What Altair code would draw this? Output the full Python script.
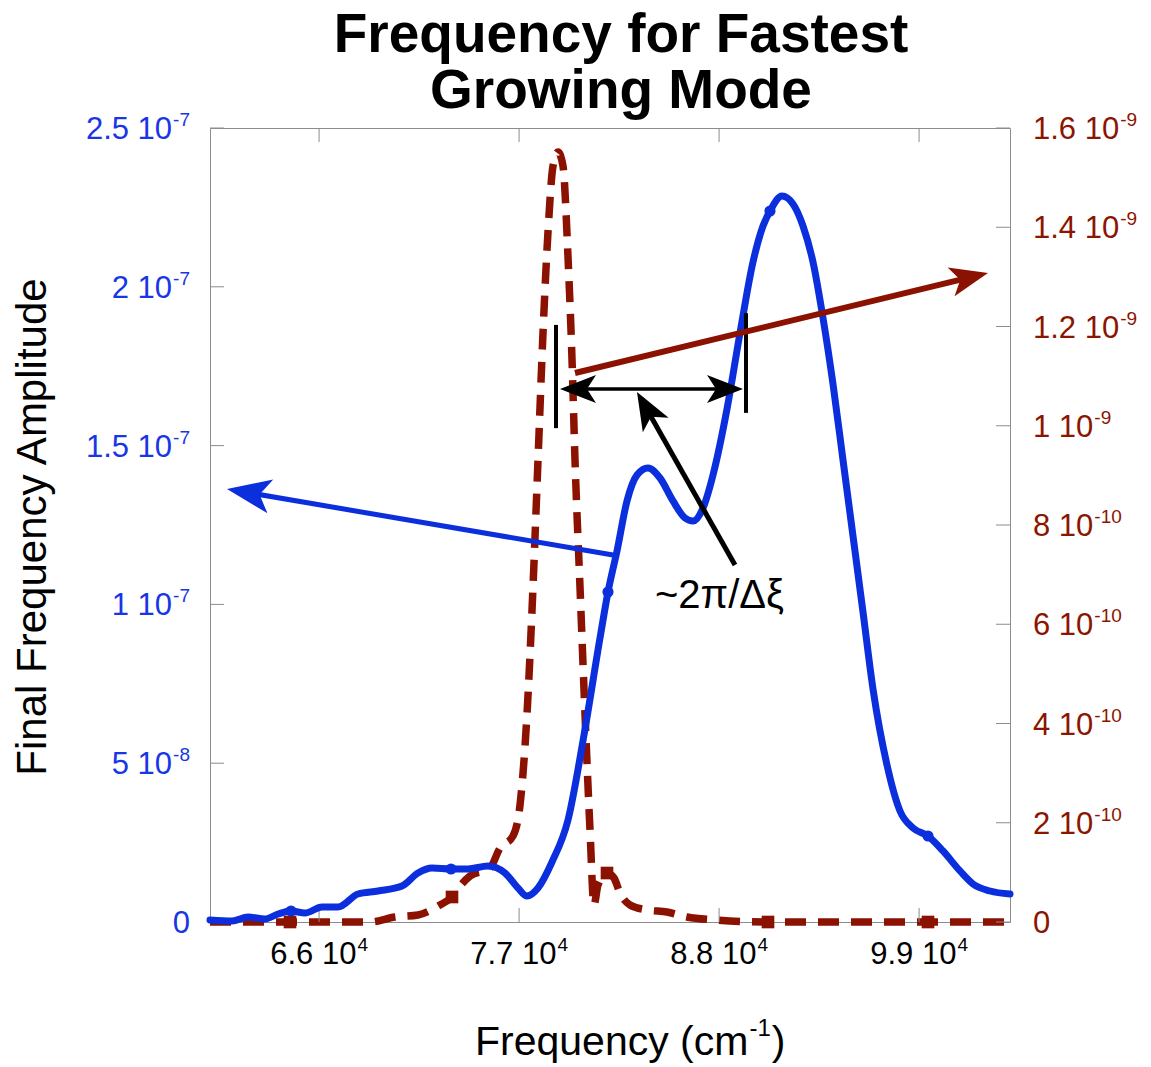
import math
import altair as alt
import pandas as pd

FONT = "Liberation Sans"
BLUE = "#0b2fdc"
RED = "#8b1200"
BLUE_LABEL = "#1736e6"
RED_LABEL = "#8b1500"
FRAME = "#8c8c8c"

W, H = 800, 794
X_DOMAIN = [60000, 104000]
LEFT_DOMAIN = [0, 2.5]    # in units of 1e-7
RIGHT_DOMAIN = [0, 1.6]   # in units of 1e-9

# ---- blue curve (left axis, units of 1e-7) ----
blue_freq = [60000, 61210, 62090, 63025, 63740, 64455, 65225, 66160, 67040, 68140,
             69240, 70560, 71440, 72210, 73255, 74190, 75290, 76225, 76940, 77435,
             78040, 78810, 79690, 80570, 81450, 81890, 82385, 82935, 83485, 84090,
             84750, 85465, 86125, 86565, 87115, 87665, 88435, 89150, 89865, 90415,
             90800, 91460, 92065, 92615, 93165, 93715, 94265, 94815, 95365, 95915,
             96465, 97235, 97950, 98665, 99490, 100315, 101250, 101965, 102900, 104000]
blue_amp = [0.0063, 0.0031, 0.0157, 0.0094, 0.0252, 0.0346, 0.0283, 0.0472, 0.0472, 0.0882,
            0.0976, 0.1133, 0.1543, 0.1700, 0.1669, 0.1669, 0.1763, 0.1543, 0.1071, 0.0819,
            0.1071, 0.1889, 0.3212, 0.5888, 0.8942, 1.0390, 1.1681, 1.3256, 1.4074, 1.4295,
            1.3980, 1.3256, 1.2720, 1.2626, 1.3035, 1.4074, 1.6152, 1.8545, 2.0781, 2.1914,
            2.2387, 2.2859, 2.2607, 2.1914, 2.0781, 1.9018, 1.6939, 1.4547, 1.2154, 0.9761,
            0.7336, 0.4943, 0.3495, 0.2960, 0.2708, 0.2236, 0.1606, 0.1196, 0.0976, 0.0882]
blue_marker_freq = [64455, 73255, 81890, 90800, 99490]
blue_marker_amp = [0.0346, 0.1669, 1.0390, 2.2387, 0.2708]

# ---- dark red dashed curve (right axis, units of 1e-9) ----
red_freq = [60000, 62200, 64400, 66600, 68800, 70175, 71440, 72650, 73310, 73750,
            74300, 75400, 75950, 76665, 77050, 77435, 77765, 78040, 78315, 78590,
            78865, 79140, 79415, 79690, 79910, 80075, 80350, 80625, 80900, 81120,
            81340, 81835, 82220, 82550, 83100, 84035, 85135, 86235, 87885, 90690,
            95200, 99490, 104000]
red_amp = [0.0, 0.0, 0.0, 0.0, 0.0, 0.0101, 0.0141, 0.0343, 0.0504, 0.0725,
           0.0927, 0.1088, 0.1491, 0.1733, 0.2358, 0.4191, 0.6751, 0.9310, 1.1869, 1.3904,
           1.5234, 1.5516, 1.5234, 1.3400, 1.1345, 0.9310, 0.6751, 0.4191, 0.1854, 0.0343,
           0.0746, 0.0987, 0.0887, 0.0584, 0.0343, 0.0242, 0.0201, 0.0101, 0.0040, 0.0,
           0.0, 0.0, 0.0]
red_marker_freq = [64400, 73310, 81835, 90690, 99490]
red_marker_amp = [0.0, 0.0504, 0.0987, 0.0, 0.0]

# ---- axis ticks and labels (mantissa "10" + superscript exponent) ----
x_ticks = [66000, 77000, 88000, 99000]
x_label_base = ["6.6 10", "7.7 10", "8.8 10", "9.9 10"]
x_label_exp = ["4", "4", "4", "4"]
left_ticks = [0, 0.5, 1.0, 1.5, 2.0, 2.5]
left_label_base = ["0", "5 10", "1 10", "1.5 10", "2 10", "2.5 10"]
left_label_exp = ["", "-8", "-7", "-7", "-7", "-7"]
right_ticks = [0, 0.2, 0.4, 0.6, 0.8, 1.0, 1.2, 1.4, 1.6]
right_label_base = ["0", "2 10", "4 10", "6 10", "8 10", "1 10", "1.2 10", "1.4 10", "1.6 10"]
right_label_exp = ["", "-10", "-10", "-10", "-10", "-9", "-9", "-9", "-9"]

title_lines = ["Frequency for Fastest", "Growing Mode"]
y_title = "Final Frequency Amplitude"
x_title_parts = ["Frequency (cm", "-1", ")"]

# ---- annotations (x in cm^-1, y in left-axis units) ----
bar_x = [79030, 89480]
bar_y0 = [1.555, 1.603]
bar_y1 = [1.880, 1.917]

arrow_x0 = [79250, 88875, 80075, 82165]
arrow_y0 = [1.678, 1.124, 1.7286, 1.1555]
arrow_x1 = [89315, 83485, 102790, 60935]
arrow_y1 = [1.678, 1.669, 2.0434, 1.3633]
arrow_color = ["black", "black", RED, BLUE]
arrow_width = [3.5, 5, 6, 5]
arrow_head = [36, 38, 38, 44]
arrow_double = [True, False, False, False]

note_text = ["~2π/Δξ"]
note_x = [84475]
note_y = [0.99]

ARROW_PATH = "M0,0 L-2,-0.78 L-1.5,0 L-2,0.78 Z"

# ---- text metrics (Arial / Liberation Sans advance widths, em units) ----
ADV = {c: 0.556 for c in "0123456789"}
ADV.update({".": 0.278, " ": 0.278, "-": 0.333, "F": 0.611, "r": 0.333, "e": 0.556,
            "q": 0.556, "u": 0.556, "n": 0.556, "c": 0.5, "y": 0.5, "(": 0.333,
            ")": 0.333, "m": 0.833})


def tw(s, size):
    return sum(ADV.get(c, 0.556) for c in s) * size


LBL = 31       # tick label size
EXP = 19       # exponent size
LBL_DY = 11    # base baseline below tick
EXP_DY = -2    # exponent baseline relative to tick


def to_px(x, y):
    px = (x - X_DOMAIN[0]) / (X_DOMAIN[1] - X_DOMAIN[0]) * W
    py = H - (y - LEFT_DOMAIN[0]) / (LEFT_DOMAIN[1] - LEFT_DOMAIN[0]) * H
    return px, py


def from_px(px, py):
    x = X_DOMAIN[0] + px / W * (X_DOMAIN[1] - X_DOMAIN[0])
    y = LEFT_DOMAIN[0] + (H - py) / H * (LEFT_DOMAIN[1] - LEFT_DOMAIN[0])
    return x, y


shaft_rows, head_rows = [], []
for i in range(len(arrow_x0)):
    p0 = to_px(arrow_x0[i], arrow_y0[i])
    p1 = to_px(arrow_x1[i], arrow_y1[i])
    dx, dy = p1[0] - p0[0], p1[1] - p0[1]
    d = math.hypot(dx, dy)
    ux, uy = dx / d, dy / d
    L = arrow_head[i]
    ang = math.degrees(math.atan2(dy, dx)) % 360
    e1 = from_px(p1[0] - ux * 0.6 * L, p1[1] - uy * 0.6 * L)
    if arrow_double[i]:
        e0 = from_px(p0[0] + ux * 0.6 * L, p0[1] + uy * 0.6 * L)
        head_rows.append(dict(x=arrow_x0[i], y=arrow_y0[i], angle=(ang + 180) % 360,
                              color=arrow_color[i], size=L * L))
    else:
        e0 = (arrow_x0[i], arrow_y0[i])
    shaft_rows.append(dict(x=e0[0], y=e0[1], x2=e1[0], y2=e1[1],
                           color=arrow_color[i], w=arrow_width[i]))
    head_rows.append(dict(x=arrow_x1[i], y=arrow_y1[i], angle=ang,
                          color=arrow_color[i], size=L * L))

blue_df = pd.DataFrame({"freq": blue_freq, "amp": blue_amp})
blue_mk = pd.DataFrame({"freq": blue_marker_freq, "amp": blue_marker_amp})
red_df = pd.DataFrame({"freq": red_freq, "amp": red_amp})
red_mk = pd.DataFrame({"freq": red_marker_freq, "amp": red_marker_amp})
bars_df = pd.DataFrame({"x": bar_x, "y": bar_y0, "y2": bar_y1})
shaft_df = pd.DataFrame(shaft_rows)
head_df = pd.DataFrame(head_rows)
note_df = pd.DataFrame({"x": note_x, "y": note_y, "t": note_text})
xt_df = pd.DataFrame({"v": x_ticks, "base": x_label_base, "exp": x_label_exp})
lt_df = pd.DataFrame({"v": left_ticks, "base": left_label_base, "exp": left_label_exp})
lt_df["bx"] = [-20 - (tw(e, EXP) + 1 if e else 0) for e in left_label_exp]
rt_df = pd.DataFrame({"v": right_ticks, "base": right_label_base, "exp": right_label_exp})
rt_df["ex"] = [W + 23 + tw(b, LBL) + 1 for b in right_label_base]

XS = alt.Scale(domain=X_DOMAIN, nice=False, zero=False)
YL = alt.Scale(domain=LEFT_DOMAIN, nice=False, zero=False)
YR = alt.Scale(domain=RIGHT_DOMAIN, nice=False, zero=False)

# ---------------- right (dark red) group ----------------
red_line = alt.Chart(red_df).mark_line(
    color=RED, strokeWidth=7.5, strokeDash=[21, 12], interpolate="monotone", strokeCap="butt"
).encode(
    x=alt.X("freq:Q", scale=XS, axis=None),
    y=alt.Y("amp:Q", scale=YR, axis=None),
)
red_pts = alt.Chart(red_mk).mark_square(color=RED, size=160, opacity=1).encode(
    x=alt.X("freq:Q", scale=XS, axis=None),
    y=alt.Y("amp:Q", scale=YR, axis=None),
)
right_ticks_mark = alt.Chart(rt_df).mark_rule(color=FRAME, strokeWidth=1).encode(
    y=alt.Y("v:Q", scale=YR, axis=None),
    x=alt.value(W - 14), x2=alt.value(W),
)
right_lbl = alt.Chart(rt_df).mark_text(
    align="left", baseline="alphabetic", fontSize=LBL, font=FONT, color=RED_LABEL, dy=LBL_DY
).encode(
    y=alt.Y("v:Q", scale=YR, axis=None), x=alt.value(W + 23), text="base:N",
)
right_exp = alt.Chart(rt_df).mark_text(
    align="left", baseline="alphabetic", fontSize=EXP, font=FONT, color=RED_LABEL, dy=EXP_DY
).encode(
    y=alt.Y("v:Q", scale=YR, axis=None), x=alt.X("ex:Q", scale=None), text="exp:N",
)
right_group = alt.layer(red_line, red_pts, right_ticks_mark, right_lbl, right_exp)

# ---------------- left (blue) group with annotations ----------------
blue_line = alt.Chart(blue_df).mark_line(
    color=BLUE, strokeWidth=7, interpolate="monotone", strokeCap="round", strokeJoin="round"
).encode(
    x=alt.X("freq:Q", scale=XS, axis=None),
    y=alt.Y("amp:Q", scale=YL, axis=None),
)
blue_pts = alt.Chart(blue_mk).mark_circle(color=BLUE, size=125, opacity=1).encode(
    x=alt.X("freq:Q", scale=XS, axis=None),
    y=alt.Y("amp:Q", scale=YL, axis=None),
)
bars = alt.Chart(bars_df).mark_rule(color="black", strokeWidth=4).encode(
    x=alt.X("x:Q", scale=XS, axis=None),
    y=alt.Y("y:Q", scale=YL, axis=None),
    y2="y2:Q",
)
shafts = alt.Chart(shaft_df).mark_rule(strokeCap="butt").encode(
    x=alt.X("x:Q", scale=XS, axis=None),
    y=alt.Y("y:Q", scale=YL, axis=None),
    x2="x2:Q", y2="y2:Q",
    color=alt.Color("color:N", scale=None),
    strokeWidth=alt.StrokeWidth("w:Q", scale=None),
)
heads = alt.Chart(head_df).mark_point(shape=ARROW_PATH, filled=True, opacity=1, strokeWidth=0).encode(
    x=alt.X("x:Q", scale=XS, axis=None),
    y=alt.Y("y:Q", scale=YL, axis=None),
    angle=alt.Angle("angle:Q", scale=None),
    color=alt.Color("color:N", scale=None),
    size=alt.Size("size:Q", scale=None),
)
note = alt.Chart(note_df).mark_text(
    align="left", baseline="alphabetic", fontSize=40, font=FONT, color="black"
).encode(
    x=alt.X("x:Q", scale=XS, axis=None),
    y=alt.Y("y:Q", scale=YL, axis=None),
    text="t:N",
)
left_ticks_mark = alt.Chart(lt_df).mark_rule(color=FRAME, strokeWidth=1).encode(
    y=alt.Y("v:Q", scale=YL, axis=None),
    x=alt.value(0), x2=alt.value(14),
)
left_lbl = alt.Chart(lt_df).mark_text(
    align="right", baseline="alphabetic", fontSize=LBL, font=FONT, color=BLUE_LABEL, dy=LBL_DY
).encode(
    y=alt.Y("v:Q", scale=YL, axis=None), x=alt.X("bx:Q", scale=None), text="base:N",
)
left_exp = alt.Chart(lt_df).mark_text(
    align="right", baseline="alphabetic", fontSize=EXP, font=FONT, color=BLUE_LABEL, dy=EXP_DY
).encode(
    y=alt.Y("v:Q", scale=YL, axis=None), x=alt.value(-20), text="exp:N",
)
bottom_ticks = alt.Chart(xt_df).mark_rule(color=FRAME, strokeWidth=1).encode(
    x=alt.X("v:Q", scale=XS, axis=None),
    y=alt.value(H), y2=alt.value(H - 14),
)
top_ticks = alt.Chart(xt_df).mark_rule(color=FRAME, strokeWidth=1).encode(
    x=alt.X("v:Q", scale=XS, axis=None),
    y=alt.value(0), y2=alt.value(14),
)
x_total = tw(x_label_base[0], LBL) + tw(x_label_exp[0], EXP) + 1
x_lbl = alt.Chart(xt_df).mark_text(
    align="left", baseline="alphabetic", fontSize=LBL, font=FONT, color="black",
    dx=-x_total / 2,
).encode(
    x=alt.X("v:Q", scale=XS, axis=None), y=alt.value(H + 42), text="base:N",
)
x_exp = alt.Chart(xt_df).mark_text(
    align="left", baseline="alphabetic", fontSize=EXP, font=FONT, color="black",
    dx=-x_total / 2 + tw(x_label_base[0], LBL) + 1,
).encode(
    x=alt.X("v:Q", scale=XS, axis=None), y=alt.value(H + 29), text="exp:N",
)

# axis titles
TS = 41
xt0 = 265
xt1 = xt0 + tw(x_title_parts[0], TS) + 1
xt2 = xt1 + tw(x_title_parts[1], 24) + 1
xtitle_a = alt.Chart(pd.DataFrame({"t": [x_title_parts[0]]})).mark_text(
    align="left", baseline="alphabetic", fontSize=TS, font=FONT, color="black"
).encode(x=alt.value(xt0), y=alt.value(H + 133), text="t:N")
xtitle_b = alt.Chart(pd.DataFrame({"t": [x_title_parts[1]]})).mark_text(
    align="left", baseline="alphabetic", fontSize=24, font=FONT, color="black"
).encode(x=alt.value(xt1), y=alt.value(H + 114), text="t:N")
xtitle_c = alt.Chart(pd.DataFrame({"t": [x_title_parts[2]]})).mark_text(
    align="left", baseline="alphabetic", fontSize=TS, font=FONT, color="black"
).encode(x=alt.value(xt2), y=alt.value(H + 133), text="t:N")
ytitle = alt.Chart(pd.DataFrame({"t": [y_title]})).mark_text(
    align="center", baseline="middle", fontSize=42, font=FONT, color="black", angle=270
).encode(x=alt.value(-177), y=alt.value(H / 2 + 2), text="t:N")

left_group = alt.layer(
    left_ticks_mark, bottom_ticks, top_ticks, left_lbl, left_exp, x_lbl, x_exp,
    xtitle_a, xtitle_b, xtitle_c, ytitle,
    blue_line, blue_pts, bars, shafts, heads, note,
)

chart = alt.layer(right_group, left_group).resolve_scale(y="independent").properties(
    width=W, height=H,
    autosize=alt.AutoSizeParams(type="none"),
    padding={"left": 210, "top": 128, "right": 141, "bottom": 145},
    title=alt.TitleParams(
        text=title_lines,
        fontSize=55, fontWeight="bold", font=FONT, color="black",
        anchor="middle", frame="group", dx=11, offset=0, dy=9, lineHeight=56,
    ),
).configure_view(
    stroke=FRAME, strokeWidth=1
)

chart.save("out.html", embed_options={"renderer": "svg", "actions": False})
